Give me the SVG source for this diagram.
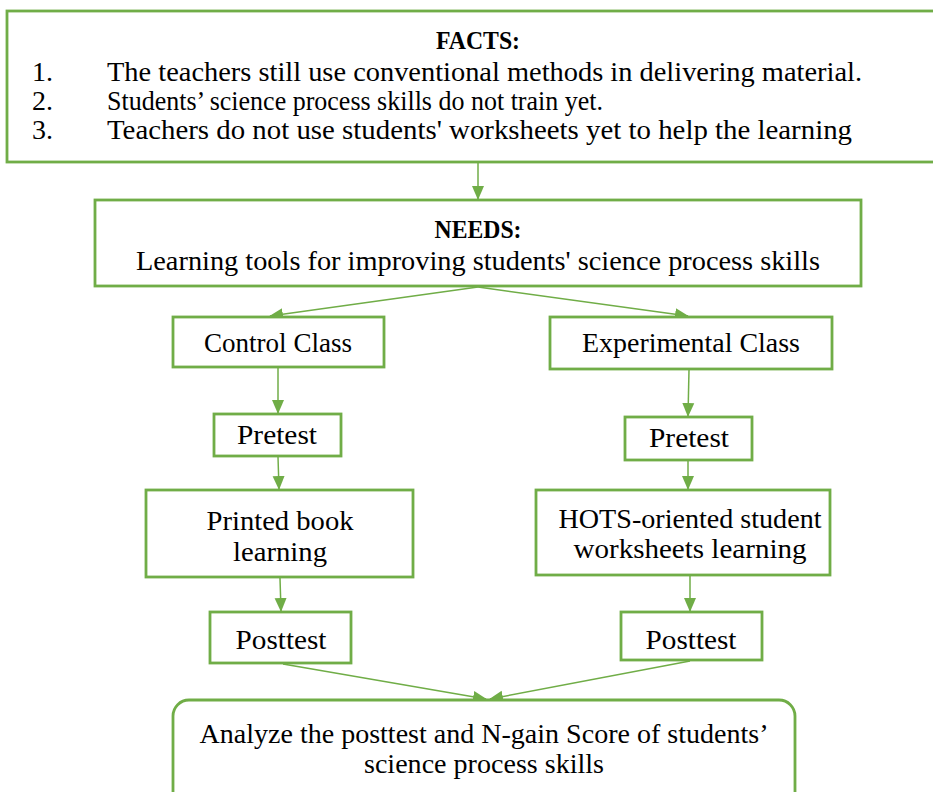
<svg xmlns="http://www.w3.org/2000/svg" width="933" height="792" viewBox="0 0 933 792">
<style>
.box{fill:#fff;stroke:#70AD47;stroke-width:2.8}
.t{font-family:"Liberation Serif",serif;font-size:28px;fill:#000}
.c{text-anchor:middle}
.b{font-weight:bold;font-size:26px}
.ln{stroke:#70AD47;stroke-width:1.5;fill:none;marker-end:url(#ah)}
</style>
<defs>
<marker id="ah" markerUnits="userSpaceOnUse" markerWidth="14" markerHeight="14" viewBox="0 0 14 14" refX="13" refY="7" orient="auto">
<path d="M0,1 L14,7 L0,13 Z" fill="#70AD47"/>
</marker>
</defs>
<rect width="933" height="792" fill="#fff"/>
<g id="connectors">
<line class="ln" x1="478" y1="163" x2="478" y2="199"/>
<line class="ln" x1="478" y1="287" x2="270" y2="316"/>
<line class="ln" x1="478" y1="287" x2="688" y2="316"/>
<line class="ln" x1="278" y1="368" x2="278" y2="413"/>
<line class="ln" x1="689" y1="370" x2="688" y2="416"/>
<line class="ln" x1="278" y1="457" x2="279" y2="489"/>
<line class="ln" x1="688" y1="461" x2="688" y2="489"/>
<line class="ln" x1="280" y1="578" x2="281" y2="611"/>
<line class="ln" x1="690" y1="576" x2="690" y2="611"/>
<line class="ln" x1="283" y1="664" x2="486" y2="699"/>
<line class="ln" x1="690" y1="661" x2="490" y2="699"/>
</g>
<g id="facts">
<rect class="box" x="7" y="11" width="940" height="151"/>
<text class="t c b" x="478" y="49" textLength="84" lengthAdjust="spacingAndGlyphs">FACTS:</text>
<text class="t" x="32" y="81">1.</text>
<text class="t" x="107" y="81" textLength="755" lengthAdjust="spacingAndGlyphs">The teachers still use conventional methods in delivering material.</text>
<text class="t" x="32" y="110">2.</text>
<text class="t" x="107" y="110" textLength="496" lengthAdjust="spacingAndGlyphs">Students’ science process skills do not train yet.</text>
<text class="t" x="32" y="139">3.</text>
<text class="t" x="107" y="139" textLength="745" lengthAdjust="spacingAndGlyphs">Teachers do not use students' worksheets yet to help the learning</text>
</g>
<g id="needs">
<rect class="box" x="95" y="200" width="766" height="86"/>
<text class="t c b" x="478" y="238" textLength="87" lengthAdjust="spacingAndGlyphs">NEEDS:</text>
<text class="t c" x="478" y="270" textLength="684" lengthAdjust="spacingAndGlyphs">Learning tools for improving students' science process skills</text>
</g>
<g id="control">
<rect class="box" x="173" y="317" width="211" height="50"/>
<text class="t c" x="278" y="352" textLength="148" lengthAdjust="spacingAndGlyphs">Control Class</text>
</g>
<g id="experimental">
<rect class="box" x="550" y="317" width="282" height="52"/>
<text class="t c" x="691" y="352" textLength="218" lengthAdjust="spacingAndGlyphs">Experimental Class</text>
</g>
<g id="pretest-control">
<rect class="box" x="214" y="414" width="127" height="42"/>
<text class="t c" x="277" y="444" textLength="80" lengthAdjust="spacingAndGlyphs">Pretest</text>
</g>
<g id="pretest-experimental">
<rect class="box" x="625" y="417" width="127" height="43"/>
<text class="t c" x="689" y="447" textLength="80" lengthAdjust="spacingAndGlyphs">Pretest</text>
</g>
<g id="printed-book">
<rect class="box" x="146" y="490" width="267" height="87"/>
<text class="t c" x="280" y="530" textLength="147" lengthAdjust="spacingAndGlyphs">Printed book</text>
<text class="t c" x="280" y="561" textLength="94" lengthAdjust="spacingAndGlyphs">learning</text>
</g>
<g id="hots">
<rect class="box" x="536" y="490" width="294" height="85"/>
<text class="t c" x="690" y="528" textLength="263" lengthAdjust="spacingAndGlyphs">HOTS-oriented student</text>
<text class="t c" x="690" y="558" textLength="233" lengthAdjust="spacingAndGlyphs">worksheets learning</text>
</g>
<g id="posttest-control">
<rect class="box" x="210" y="612" width="141" height="51"/>
<text class="t c" x="281" y="649" textLength="91" lengthAdjust="spacingAndGlyphs">Posttest</text>
</g>
<g id="posttest-experimental">
<rect class="box" x="621" y="612" width="141" height="48"/>
<text class="t c" x="691" y="649" textLength="91" lengthAdjust="spacingAndGlyphs">Posttest</text>
</g>
<g id="analyze">
<rect class="box" x="173" y="700" width="622" height="112" rx="16" ry="16"/>
<text class="t c" x="484" y="743" textLength="569" lengthAdjust="spacingAndGlyphs">Analyze the posttest and N-gain Score of students’</text>
<text class="t c" x="484" y="773" textLength="240" lengthAdjust="spacingAndGlyphs">science process skills</text>
</g>
</svg>
